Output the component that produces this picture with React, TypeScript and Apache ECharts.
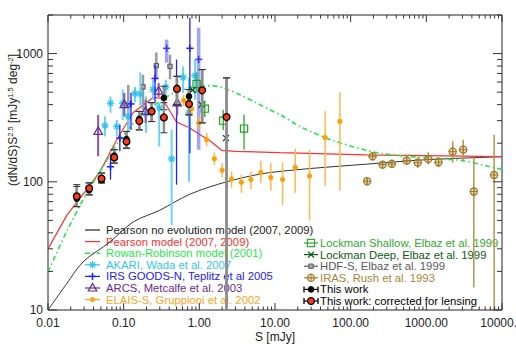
import React, { useEffect, useRef } from 'react';
import * as echarts from 'echarts';

const FONT = '"Liberation Sans", Arial, sans-serif';

// ---- axis ticks / labels ----
const xTickValues = [0.01, 0.1, 1, 10, 100, 1000, 10000];
const xTickLabels = ['0.01', '0.10', '1.00', '10.00', '100.00', '1000.00', '10000.0'];
const yTickValues = [10, 100, 1000];
const yTickLabels = ['10', '100', '1000'];

// ---- model curves: [S (mJy), (dN/dS) S^2.5] ----
const pearsonNoEvo = [[0.01, 10], [0.0176, 16], [0.029, 23.7], [0.066, 34], [0.134, 48.7], [0.3, 60], [0.75, 80], [2.3, 100], [8.5, 118], [245, 140], [1075, 149], [10000, 157]];
const pearsonModel = [[0.01, 30], [0.0178, 55], [0.033, 88], [0.0486, 120], [0.081, 213], [0.133, 346], [0.243, 453], [0.32, 450], [0.5, 293], [0.75, 263], [1.02, 233], [1.37, 210], [1.97, 176], [3, 173], [11.5, 169], [158, 162], [10000, 157]];
const rowanRobinson = [[0.01, 19.8], [0.018, 42], [0.033, 83], [0.0486, 120], [0.089, 213], [0.16, 316], [0.37, 460], [0.6, 524], [1.0, 560], [1.5, 560], [2.07, 540], [3.4, 479], [5.7, 412], [8.5, 365], [11.7, 333], [23.5, 263], [64, 206], [245, 167], [1100, 153], [3070, 146], [6900, 131], [10000, 125]];

// ---- data: [S, value, low, high] ----
const akari = [[0.0566, 274, 226, 324], [0.067, 410, 346, 463], [0.081, 270, 226, 303], [0.097, 410, 303, 524], [0.115, 324, 250, 420], [0.141, 488, 420, 550], [0.166, 484, 385, 713], [0.197, 340, 241, 463], [0.245, 524, 437, 626], [0.295, 377, 188, 414], [0.36, 548, 437, 626], [0.43, 151, 46, 255], [0.61, 653, 494, 795], [0.73, 344, 100, 650], [0.88, 673, 437, 898]];
const irs = [[0.067, 131, 104, 163], [0.089, 219, 173, 278], [0.125, 405, 254, 494], [0.26, 640, 414, 820], [0.5, 400, 95, 898], [0.75, 1100, 167, 1900]];
const irsWide = [[0.37, 1100, 850, 1285], [0.98, 900, 178, 1590]];
const arcs = [[0.046, 247, 158, 333], [0.102, 400, 324, 494], [0.195, 354, 288, 437], [0.29, 510, 460, 590], [0.51, 412, 330, 520]];
const elaisS = [[0.62, 431, 390, 480], [0.79, 372, 330, 420], [0.98, 288, 255, 325], [1.25, 213, 190, 240], [1.58, 151, 135, 170], [2.0, 123, 108, 140], [2.67, 105, 90, 120], [3.6, 99, 82, 113], [4.8, 104, 88, 120], [6.5, 118, 98, 145], [8.8, 108, 85, 140], [12.6, 104, 66, 141], [18.5, 130, 82, 181], [28.6, 111, 50, 178], [46, 222, 93, 355], [72, 296, 85, 500]];
const lockmanShallow = [[0.92, 580, 494, 710], [1.18, 372, 320, 430], [2.07, 300, 254, 365], [3.9, 260, 178, 333]];
const lockmanDeep = [[0.81, 520, 520, 520], [1.07, 400, 400, 400], [2.25, 219, 219, 219]];
const hdfS = [[0.115, 400, 265, 570], [0.18, 550, 365, 683], [0.27, 805, 630, 1020], [0.41, 795, 630, 980]];
const iras = [[165, 101, 97, 106], [195, 158, 150, 166], [264, 136, 128, 144], [350, 138, 130, 146], [550, 146, 138, 154], [770, 141, 128, 156], [1060, 150, 137, 170], [1450, 142, 130, 156], [2230, 172, 141, 207], [3070, 178, 144, 213], [4240, 84, 15, 154], [7870, 113, 5, 233]];
const thisWork = [[0.024, 74, 64, 95], [0.035, 86, 79, 98], [0.051, 103, 98, 117], [0.075, 160, 140, 178], [0.109, 215, 183, 247], [0.161, 310, 254, 354], [0.234, 360, 295, 414], [0.34, 451, 365, 556], [0.506, 540, 398, 665], [0.73, 464, 333, 524], [1.09, 520, 288, 750], [2.29, 320, 5, 646]];
const corrected = [[0.024, 77, 64, 92], [0.035, 89, 79, 98], [0.051, 106, 98, 117], [0.075, 155, 140, 178], [0.109, 206, 183, 247], [0.161, 298, 254, 354], [0.234, 354, 295, 414], [0.34, 318, 241, 414], [0.506, 530, 398, 665], [0.73, 405, 333, 524], [1.09, 517, 288, 750], [2.29, 320, 5, 646]];

// ---- legend entries: [label, colour, line style, marker] ----
const legendLeft = [
  ['Pearson no evolution model (2007, 2009)', '#222222', 'solid', ''],
  ['Pearson model (2007, 2009)', '#ff2e2e', 'solid', ''],
  ['Rowan-Robinson model (2001)', '#1ee84a', 'dashdot', ''],
  ['AKARI, Wada et al. 2007', '#33c6f2', 'solid', 'asterisk'],
  ['IRS GOODS-N, Teplitz et al 2005', '#2020ff', 'solid', 'plus'],
  ['ARCS, Metcalfe et al. 2003', '#6a2a90', 'solid', 'triangle'],
  ['ELAIS-S, Gruppioni et al. 2002', '#ffa41c', 'solid', 'dot'],
];
const legendRight = [
  ['Lockman Shallow, Elbaz et al. 1999', '#2eaa2e', 'solid', 'square'],
  ['Lockman Deep, Elbaz et al. 1999', '#0e5a14', 'solid', 'cross'],
  ['HDF-S, Elbaz et al. 1999', '#5a5a5a', 'solid', 'smallsq'],
  ['IRAS, Rush et al. 1993', '#a8843a', 'solid', 'diamondplus'],
  ['This work', '#000000', 'caps', 'black'],
  ['This work: corrected for lensing', '#000000', 'caps', 'red'],
];

const X_MIN = 0.01, X_MAX = 10000, Y_MIN = 10, Y_MAX = 2000;

function markerEls(kind: string, cx: number, cy: number, color: string): any[] {
  const ln = (x1: number, y1: number, x2: number, y2: number, w = 1.2) => ({
    type: 'line', shape: { x1: cx + x1, y1: cy + y1, x2: cx + x2, y2: cy + y2 }, style: { stroke: color, lineWidth: w },
  });
  switch (kind) {
    case 'asterisk': { const r = 3.7, d = 2.6; return [ln(-r, 0, r, 0, 1.3), ln(0, -r, 0, r, 1.3), ln(-d, -d, d, d, 1.3), ln(-d, d, d, -d, 1.3)]; }
    case 'plus': return [ln(-3.6, 0, 3.6, 0, 1.5), ln(0, -3.6, 0, 3.6, 1.5)];
    case 'triangle': return [{ type: 'polygon', shape: { points: [[cx, cy - 4.6], [cx + 4.3, cy + 3], [cx - 4.3, cy + 3]] }, style: { fill: 'none', stroke: color, lineWidth: 1.2 } }];
    case 'dot': return [{ type: 'circle', shape: { cx, cy, r: 2.6 }, style: { fill: color } }];
    case 'square': return [{ type: 'rect', shape: { x: cx - 3.6, y: cy - 3.6, width: 7.2, height: 7.2 }, style: { fill: 'none', stroke: color, lineWidth: 1.2 } }];
    case 'cross': return [ln(-3, -3, 3, 3, 1.3), ln(-3, 3, 3, -3, 1.3)];
    case 'smallsq': return [{ type: 'rect', shape: { x: cx - 2.2, y: cy - 2.2, width: 4.4, height: 4.4 }, style: { fill: '#a8a8a8', stroke: color, lineWidth: 1 } }];
    case 'diamondplus': return [
      { type: 'circle', shape: { cx, cy, r: 3.6 }, style: { fill: 'rgba(200,160,80,0.35)', stroke: color, lineWidth: 1.2 } },
      ln(-4.2, 0, 4.2, 0, 1), ln(0, -4.2, 0, 4.2, 1)];
    case 'black': return [{ type: 'circle', shape: { cx, cy, r: 3.3 }, style: { fill: '#000000' } }];
    case 'red': return [{ type: 'circle', shape: { cx, cy, r: 3.4 }, style: { fill: '#ff3a10', stroke: '#000000', lineWidth: 1.3 } }];
  }
  return [];
}

type Cfg = { bar?: [string, number]; cap?: string; marker?: [string, string]; z?: number };

function errSeries(name: string, data: number[][], cfg: Cfg) {
  return {
    type: 'custom', name, data, z: cfg.z ?? 3, encode: { x: 0, y: 1 },
    renderItem: (_params: any, api: any) => {
      const s = api.value(0), v = api.value(1), lo = api.value(2), hi = api.value(3);
      const c = api.coord([s, v]);
      const top = api.coord([s, Math.min(hi, Y_MAX)]);
      const bot = api.coord([s, Math.max(lo, Y_MIN)]);
      const children: any[] = [];
      if (cfg.bar && hi > lo) {
        children.push({ type: 'line', shape: { x1: c[0], y1: top[1], x2: c[0], y2: bot[1] }, style: { stroke: cfg.bar[0], lineWidth: cfg.bar[1] } });
      }
      if (cfg.cap) {
        children.push({ type: 'line', shape: { x1: c[0] - 3.5, y1: top[1], x2: c[0] + 3.5, y2: top[1] }, style: { stroke: cfg.cap, lineWidth: 1 } });
        if (lo >= Y_MIN) children.push({ type: 'line', shape: { x1: c[0] - 3.5, y1: bot[1], x2: c[0] + 3.5, y2: bot[1] }, style: { stroke: cfg.cap, lineWidth: 1 } });
      }
      if (cfg.marker) children.push(...markerEls(cfg.marker[0], c[0], c[1], cfg.marker[1]));
      return { type: 'group', children };
    },
  };
}

function tickSeries() {
  const data: number[][] = [];
  for (let e = -2; e <= 4; e++) {
    for (let m = 1; m <= 9; m++) {
      const val = m * Math.pow(10, e);
      if (val > X_MAX * 1.0001) break;
      data.push([val, Y_MIN, m === 1 ? 0 : 1]);
    }
  }
  for (let e = 1; e <= 3; e++) {
    for (let m = 1; m <= 9; m++) {
      const val = m * Math.pow(10, e);
      if (val > Y_MAX * 1.0001) break;
      data.push([X_MIN, val, m === 1 ? 2 : 3]);
    }
  }
  return {
    type: 'custom', name: 'ticks', data, z: 5, silent: true, encode: { x: 0, y: 1 },
    renderItem: (params: any, api: any) => {
      const cs = params.coordSys;
      const kind = api.value(2);
      const p = api.coord([api.value(0), api.value(1)]);
      const st = { stroke: '#333333', lineWidth: 1 };
      if (kind < 2) {
        const L = kind === 0 ? 7 : 3.5;
        const b = cs.y + cs.height, t = cs.y;
        return { type: 'group', children: [
          { type: 'line', shape: { x1: p[0], y1: b, x2: p[0], y2: b - L }, style: st },
          { type: 'line', shape: { x1: p[0], y1: t, x2: p[0], y2: t + L }, style: st },
        ] };
      }
      const L = kind === 2 ? 9 : 5;
      const l = cs.x, r = cs.x + cs.width;
      return { type: 'group', children: [
        { type: 'line', shape: { x1: l, y1: p[1], x2: l + L, y2: p[1] }, style: st },
        { type: 'line', shape: { x1: r, y1: p[1], x2: r - L, y2: p[1] }, style: st },
      ] };
    },
  };
}

function labelFor(values: number[], labels: string[]) {
  return (v: number) => {
    for (let i = 0; i < values.length; i++) {
      if (Math.abs(Math.log10(v) - Math.log10(values[i])) < 1e-6) return labels[i];
    }
    return '';
  };
}

function legendGraphics(): any[] {
  const out: any[] = [];
  const build = (entries: string[][], x0: number, x1: number, tx: number, base: number) => {
    entries.forEach((e, i) => {
      const [label, color, style, marker] = e;
      const y = base + i * 11.6;
      const children: any[] = [];
      const lineColor = style === 'caps' ? '#000000' : color;
      children.push({ type: 'line', shape: { x1: x0, y1: y, x2: x1, y2: y }, style: { stroke: lineColor, lineWidth: style === 'dashdot' ? 1.5 : 1.2, lineDash: style === 'dashdot' ? [5, 2.5, 1.5, 2.5] : null } });
      if (style === 'caps') {
        children.push({ type: 'line', shape: { x1: x0, y1: y - 3, x2: x0, y2: y + 3 }, style: { stroke: '#000', lineWidth: 1.3 } });
        children.push({ type: 'line', shape: { x1: x1, y1: y - 3, x2: x1, y2: y + 3 }, style: { stroke: '#000', lineWidth: 1.3 } });
      }
      if (marker) children.push(...markerEls(marker, (x0 + x1) / 2, y, color));
      children.push({ type: 'text', x: tx, y, style: { text: label, fill: color, font: `11.3px ${FONT}`, verticalAlign: 'middle', align: 'left' } });
      out.push({ type: 'group', z: 10, children });
    });
  };
  build(legendLeft, 85, 100, 106, 230);
  build(legendRight, 304, 318, 320, 243);
  return out;
}

function buildOption() {
  const lineSeries = (name: string, data: number[][], color: string, width: number, dash: any, smooth: number | boolean) => ({
    type: 'line', name, data, showSymbol: false, symbol: 'none', smooth, z: 2,
    lineStyle: { color, width, type: dash },
  });
  return {
    animation: false,
    backgroundColor: '#ffffff',
    grid: { left: 48, right: 14, top: 15, bottom: 34, show: true, borderColor: '#222222', borderWidth: 1, backgroundColor: 'transparent', containLabel: false, outerBoundsMode: 'none' },
    xAxis: {
      type: 'log', logBase: 10, min: X_MIN, max: X_MAX, splitNumber: 6,
      axisLine: { show: false }, axisTick: { show: false }, splitLine: { show: false }, minorTick: { show: false },
      axisLabel: { formatter: labelFor(xTickValues, xTickLabels), color: '#222', fontSize: 12, fontFamily: FONT, margin: 7, showMaxLabel: true, showMinLabel: true },
      name: 'S [mJy]', nameLocation: 'middle', nameGap: 21, nameMoveOverlap: false,
      nameTextStyle: { color: '#222', fontSize: 12, fontFamily: FONT, verticalAlign: 'top' },
    },
    yAxis: {
      type: 'log', logBase: 10, min: Y_MIN, max: Y_MAX,
      axisLine: { show: false }, axisTick: { show: false }, splitLine: { show: false }, minorTick: { show: false },
      axisLabel: { formatter: labelFor(yTickValues, yTickLabels), color: '#222', fontSize: 12, fontFamily: FONT, margin: 5 },
    },
    graphic: [
      {
        type: 'text', x: 13, y: 120, rotation: Math.PI / 2,
        style: {
          text: '{a|(dN/dS)S}{s|2.5}{a| [mJy}{s|1.5}{a| deg}{s|-2}{a|]}',
          align: 'center', verticalAlign: 'middle',
          rich: {
            a: { fontSize: 12, fontFamily: FONT, fill: '#222', lineHeight: 14 },
            s: { fontSize: 7.5, fontFamily: FONT, fill: '#222', verticalAlign: 'top', lineHeight: 9 },
          },
        },
      },
      ...legendGraphics(),
    ],
    series: [
      lineSeries('Pearson no evolution model (2007, 2009)', pearsonNoEvo, '#333333', 1, 'solid', 0.3),
      lineSeries('Pearson model (2007, 2009)', pearsonModel, '#ff3030', 1.2, 'solid', false),
      lineSeries('Rowan-Robinson model (2001)', rowanRobinson, '#1ee84a', 1.6, [5, 3, 1.5, 3], 0.3),
      errSeries('IRS wide', irsWide, { bar: ['rgba(100,100,255,0.6)', 3.5], marker: ['plus', '#3a3aff'] }),
      errSeries('HDF-S', hdfS, { bar: ['#9a9a9a', 2.5], marker: ['smallsq', '#5a5a5a'] }),
      errSeries('AKARI', akari, { bar: ['#66d4f5', 2], marker: ['asterisk', '#2ec2f0'] }),
      errSeries('IRS', irs, { bar: ['#1f1fff', 1.3], marker: ['plus', '#1f1fff'] }),
      errSeries('ARCS', arcs, { bar: ['#8a55aa', 2], marker: ['triangle', '#6a2a90'] }),
      errSeries('ELAIS-S', elaisS, { bar: ['#ffb84a', 1.5], marker: ['dot', '#ffa000'] }),
      errSeries('Lockman Shallow', lockmanShallow, { bar: ['#3cb83c', 1.5], marker: ['square', '#22a022'] }),
      errSeries('Lockman Deep', lockmanDeep, { marker: ['cross', '#0e4e14'] }),
      errSeries('IRAS', iras, { bar: ['#b8944a', 1.5], marker: ['diamondplus', '#a07828'] }),
      errSeries('This work bars', thisWork, { bar: ['#8c8c8c', 2.4], cap: '#333333' }),
      errSeries('Corrected bars', corrected, { bar: ['#8c8c8c', 2.4], cap: '#333333' }),
      errSeries('This work', thisWork, { marker: ['black', '#000000'], z: 4 }),
      errSeries('This work: corrected for lensing', corrected, { marker: ['red', '#000000'], z: 4 }),
      tickSeries(),
    ],
  };
}

export default function App() {
  const ref = useRef<HTMLDivElement>(null);
  useEffect(() => {
    const chart = echarts.init(ref.current as HTMLDivElement, null, { renderer: 'svg' });
    chart.setOption(buildOption() as any);
    return () => chart.dispose();
  }, []);
  return <div ref={ref} style={{ position: 'fixed', left: 0, top: 0, width: 516, height: 344, background: '#ffffff' }} />;
}
